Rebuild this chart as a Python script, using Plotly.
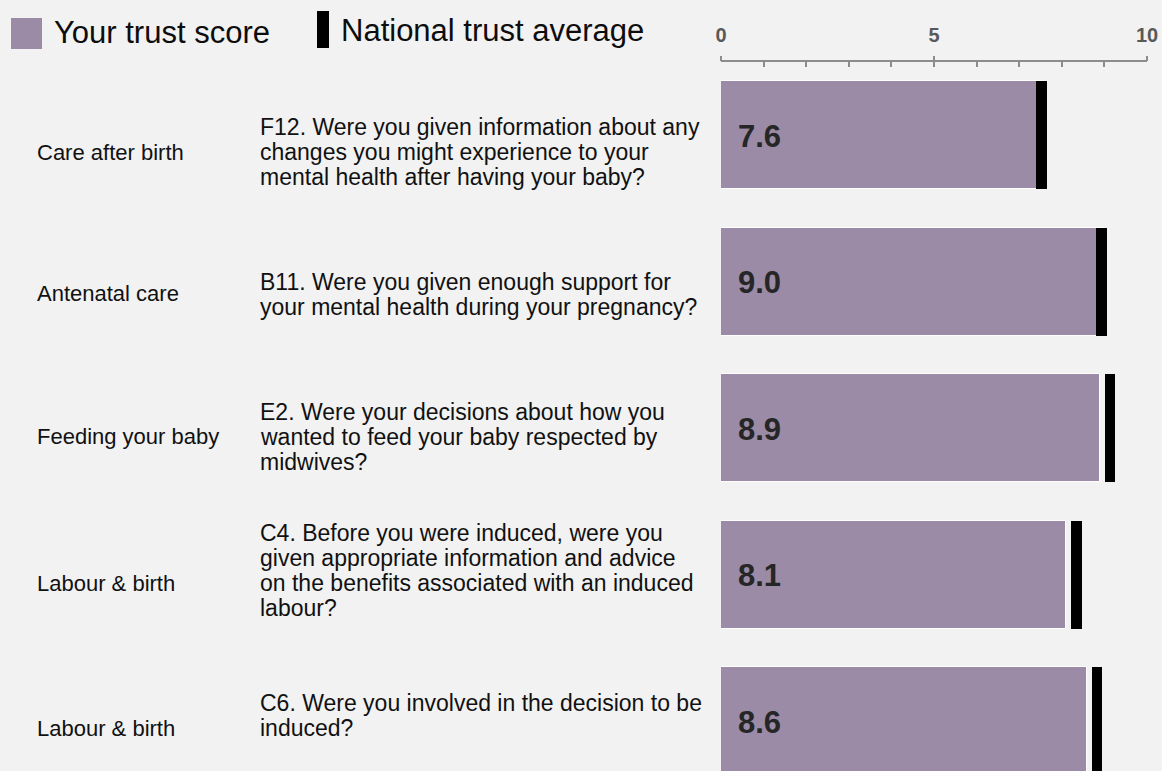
import plotly.graph_objects as go

# ---------------- data ----------------
categories = ["Care after birth", "Antenatal care", "Feeding your baby",
              "Labour & birth", "Labour & birth"]
questions = [
    ["F12. Were you given information about any",
     "changes you might experience to your",
     "mental health after having your baby?"],
    ["B11. Were you given enough support for",
     "your mental health during your pregnancy?"],
    ["E2. Were your decisions about how you",
     "wanted to feed your baby respected by",
     "midwives?"],
    ["C4. Before you were induced, were you",
     "given appropriate information and advice",
     "on the benefits associated with an induced",
     "labour?"],
    ["C6. Were you involved in the decision to be",
     "induced?"],
]
trust_scores = [7.6, 9.0, 8.9, 8.1, 8.6]
national_avg = [7.53, 8.93, 9.13, 8.34, 8.83]
tick_values = [0, 5, 10]
tick_labels = ["0", "5", "10"]

# ---------------- layout constants ----------------
W, H = 1162, 771
L, R, T, B = 721, 15, 62, 0
PW, PH = W - L - R, H - T - B
FONT = "Liberation Sans, Arial, sans-serif"
PURPLE = "#9b8ba6"
AXIS_GREY = "#8c8c8c"
BG = "#f2f2f2"
TEXT_COLOR = "#111111"
MARKER_W = 0.25
LINE_PX = 25
CAT_Y_PX = [152, 294, 437, 583, 728]
Q_SHIFT_LINES = [0, 0, 0, -0.5, -0.5]


def px_x(p):
    return (p - L) / PW


def px_y(p):
    return 1 - (p - T) / PH


rows = list(range(len(trust_scores)))

fig = go.Figure()
fig.add_trace(go.Bar(
    x=trust_scores, y=rows, orientation="h", width=0.74,
    marker=dict(color=PURPLE, line=dict(color="#ffffff", width=1)),
    xaxis="x", yaxis="y", hoverinfo="skip", showlegend=False,
))
fig.add_trace(go.Bar(
    x=[MARKER_W] * len(national_avg),
    base=[a - MARKER_W / 2 for a in national_avg],
    y=rows, orientation="h", width=0.74,
    marker=dict(color="#000000", line=dict(width=0)),
    xaxis="x2", yaxis="y", hoverinfo="skip", showlegend=False,
))

annotations = []
for i, v in enumerate(trust_scores):
    annotations.append(dict(
        x=0, y=i, xref="x", yref="y", xanchor="left", yanchor="middle",
        xshift=15, yshift=-1, text=f"{v:.1f}", showarrow=False,
        font=dict(family=FONT, size=31, color="#262626", weight="bold"),
    ))
for i, (c, q) in enumerate(zip(categories, questions)):
    annotations.append(dict(
        x=px_x(35), y=px_y(CAT_Y_PX[i]), xref="paper", yref="paper",
        xanchor="left", yanchor="middle", text=c, showarrow=False,
        font=dict(family=FONT, size=22, color=TEXT_COLOR),
    ))
    n = len(q)
    centre = CAT_Y_PX[i] + Q_SHIFT_LINES[i] * LINE_PX
    for k, line in enumerate(q):
        yc = centre + (k - (n - 1) / 2) * LINE_PX
        annotations.append(dict(
            x=px_x(258), y=px_y(yc), xref="paper", yref="paper",
            xanchor="left", yanchor="middle", align="left", text=line,
            showarrow=False,
            font=dict(family=FONT, size=23, color=TEXT_COLOR),
        ))
# legend
annotations.append(dict(
    x=px_x(52), y=px_y(32), xref="paper", yref="paper", xanchor="left",
    yanchor="middle", text="Your trust score", showarrow=False,
    font=dict(family=FONT, size=31, color="#0d0d0d"),
))
annotations.append(dict(
    x=px_x(339), y=px_y(30), xref="paper", yref="paper", xanchor="left",
    yanchor="middle", text="National trust average", showarrow=False,
    font=dict(family=FONT, size=31, color="#0d0d0d"),
))
shapes = [
    dict(type="rect", xref="paper", yref="paper",
         x0=px_x(11), x1=px_x(42), y0=px_y(49), y1=px_y(18),
         fillcolor=PURPLE, line=dict(width=0)),
    dict(type="rect", xref="paper", yref="paper",
         x0=px_x(317), x1=px_x(329), y0=px_y(48), y1=px_y(11),
         fillcolor="#000000", line=dict(width=0)),
]

fig.update_layout(
    width=W, height=H,
    margin=dict(l=L, r=R, t=T, b=B, pad=0, autoexpand=False),
    paper_bgcolor=BG, plot_bgcolor=BG,
    barmode="overlay", bargap=0,
    xaxis=dict(
        range=[0, 10], side="top", showline=True, linecolor=AXIS_GREY, linewidth=2,
        tickvals=tick_values, showticklabels=False, ticks="inside", ticklen=5,
        tickwidth=2, tickcolor=AXIS_GREY,
        minor=dict(tickmode="linear", tick0=0, dtick=1, ticks="inside",
                   ticklen=5, tickwidth=2, tickcolor=AXIS_GREY),
        showgrid=False, zeroline=False, fixedrange=True,
    ),
    xaxis2=dict(
        range=[0, 10], side="top", overlaying="x", anchor="y",
        tickvals=tick_values, ticktext=tick_labels, ticks="outside", ticklen=5,
        tickwidth=2, tickcolor=AXIS_GREY, showline=False, showgrid=False,
        zeroline=False, fixedrange=True, ticklabelstandoff=6,
        tickfont=dict(family=FONT, size=20, color="#595959", weight="bold"),
    ),
    yaxis=dict(range=[4.34, -0.5], visible=False, fixedrange=True),
    annotations=annotations,
    shapes=shapes,
)

fig.write_html(
    "out.html",
    config={"displayModeBar": False},
    post_script="document.body.style.margin='0';document.body.style.overflow='hidden';",
)
